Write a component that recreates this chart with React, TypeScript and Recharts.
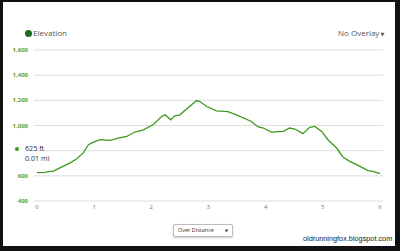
import React from "react";
import { LineChart, Line, XAxis, YAxis, CartesianGrid } from "recharts";

// distance along the route (mi) and elevation (ft)
const distanceMi = [
  0, 0.14, 0.23, 0.28, 0.4, 0.58, 0.69, 0.81, 0.9, 0.98, 1.1, 1.28, 1.42, 1.57,
  1.71, 1.86, 2.03, 2.18, 2.24, 2.34, 2.41, 2.5, 2.79, 2.85, 2.97, 3.14, 3.34,
  3.49, 3.75, 3.87, 3.96, 4.1, 4.31, 4.42, 4.51, 4.65, 4.77, 4.86, 4.98, 5.09,
  5.24, 5.35, 5.47, 5.59, 5.7, 5.79, 5.88, 6.0,
];
const elevationFt = [
  625, 628, 636, 635, 663, 703, 734, 782, 847, 866, 887, 882, 900, 913, 948,
  966, 1006, 1072, 1085, 1045, 1077, 1085, 1198, 1190, 1151, 1117, 1111, 1085,
  1032, 988, 980, 948, 953, 980, 972, 935, 985, 993, 953, 887, 821, 750, 715,
  689, 663, 641, 636, 618,
];
const yTicks = [400, 600, 800, 1000, 1200, 1400, 1600];
const xTicks = [0, 1, 2, 3, 4, 5, 6];

const data = distanceMi.map((d, i) => ({ d, e: elevationFt[i] }));

const font = '"Open Sans", "DejaVu Sans", sans-serif';

// the 800 label sits under the hover readout, so it is not drawn
const YTick = (props: any) => {
  const { x, y, payload } = props;
  if (payload.value === 800) return null;
  return (
    <text
      x={x}
      y={y}
      dy={2}
      textAnchor="end"
      fontSize={6}
      fontWeight={700}
      fill="#5da22e"
      fontFamily={font}
    >
      {payload.value.toLocaleString("en-US")}
    </text>
  );
};

const readout: React.CSSProperties = {
  position: "absolute",
  left: 25,
  fontSize: 7.2,
  lineHeight: "9px",
  color: "#333",
  whiteSpace: "nowrap",
};

export default function App() {
  return (
    <div
      style={{
        position: "absolute",
        left: 0,
        top: 0,
        width: 400,
        height: 251,
        background: "#111",
        fontFamily: font,
      }}
    >
      <div
        style={{
          position: "absolute",
          left: 3,
          top: 2,
          right: 5,
          bottom: 5,
          background: "#fff",
        }}
      />
      <LineChart
        width={400}
        height={251}
        data={data}
        margin={{ top: 50, right: 17, left: 4, bottom: 30 }}
        style={{ position: "absolute", left: 0, top: 0 }}
      >
        <CartesianGrid vertical={false} stroke="#dedede" />
        <XAxis
          dataKey="d"
          type="number"
          domain={[0, 6]}
          ticks={xTicks}
          padding={{ left: 3, right: 3 }}
          axisLine={false}
          tickLine={false}
          tickSize={2}
          tickMargin={2}
          height={20}
          tick={{ fontSize: 6, fill: "#777", fontFamily: font }}
        />
        <YAxis
          type="number"
          domain={[400, 1600]}
          ticks={yTicks}
          axisLine={false}
          tickLine={false}
          tickSize={4}
          tickMargin={2}
          width={30}
          tick={<YTick />}
        />
        <Line
          type="linear"
          dataKey="e"
          stroke="#3d9a1f"
          strokeWidth={1.3}
          dot={false}
          isAnimationActive={false}
        />
      </LineChart>

      {/* legend */}
      <div
        style={{
          position: "absolute",
          left: 24.5,
          top: 29.5,
          width: 7,
          height: 7,
          borderRadius: "50%",
          background: "#1d6b1d",
        }}
      />
      <div style={{ position: "absolute", left: 33, top: 27, fontSize: 8, color: "#555", whiteSpace: "nowrap" }}>
        Elevation
      </div>
      <div style={{ position: "absolute", left: 338, top: 27, fontSize: 8, color: "#555", whiteSpace: "nowrap" }}>
        No Overlay<span style={{ fontSize: 5, marginLeft: 1 }}>▼</span>
      </div>

      {/* hover readout */}
      <div
        style={{
          position: "absolute",
          left: 15,
          top: 147,
          width: 4,
          height: 4,
          borderRadius: "50%",
          background: "#3d9a1f",
        }}
      />
      <div style={{ ...readout, top: 143.5 }}>625 ft</div>
      <div style={{ ...readout, top: 153.5 }}>0.01 mi</div>

      {/* select box */}
      <div
        style={{
          position: "absolute",
          left: 173,
          top: 224,
          width: 60,
          height: 13,
          boxSizing: "border-box",
          border: "1px solid #bbb",
          borderRadius: 2,
          boxShadow: "0 1px 2px rgba(0,0,0,0.2)",
          background: "#fff",
          fontSize: 5.5,
          color: "#333",
          lineHeight: "11px",
          paddingLeft: 4,
          whiteSpace: "nowrap",
        }}
      >
        Over Distance
        <span style={{ position: "absolute", right: 4, top: 0, fontSize: 4 }}>▼</span>
      </div>

      {/* watermark */}
      <div
        style={{
          position: "absolute",
          left: 303,
          top: 234,
          fontSize: 7.3,
          color: "#222",
          fontFamily: '"Liberation Sans", Arial, sans-serif',
          whiteSpace: "nowrap",
        }}
      >
        oldrunningfox.blogspot.com
      </div>
    </div>
  );
}
